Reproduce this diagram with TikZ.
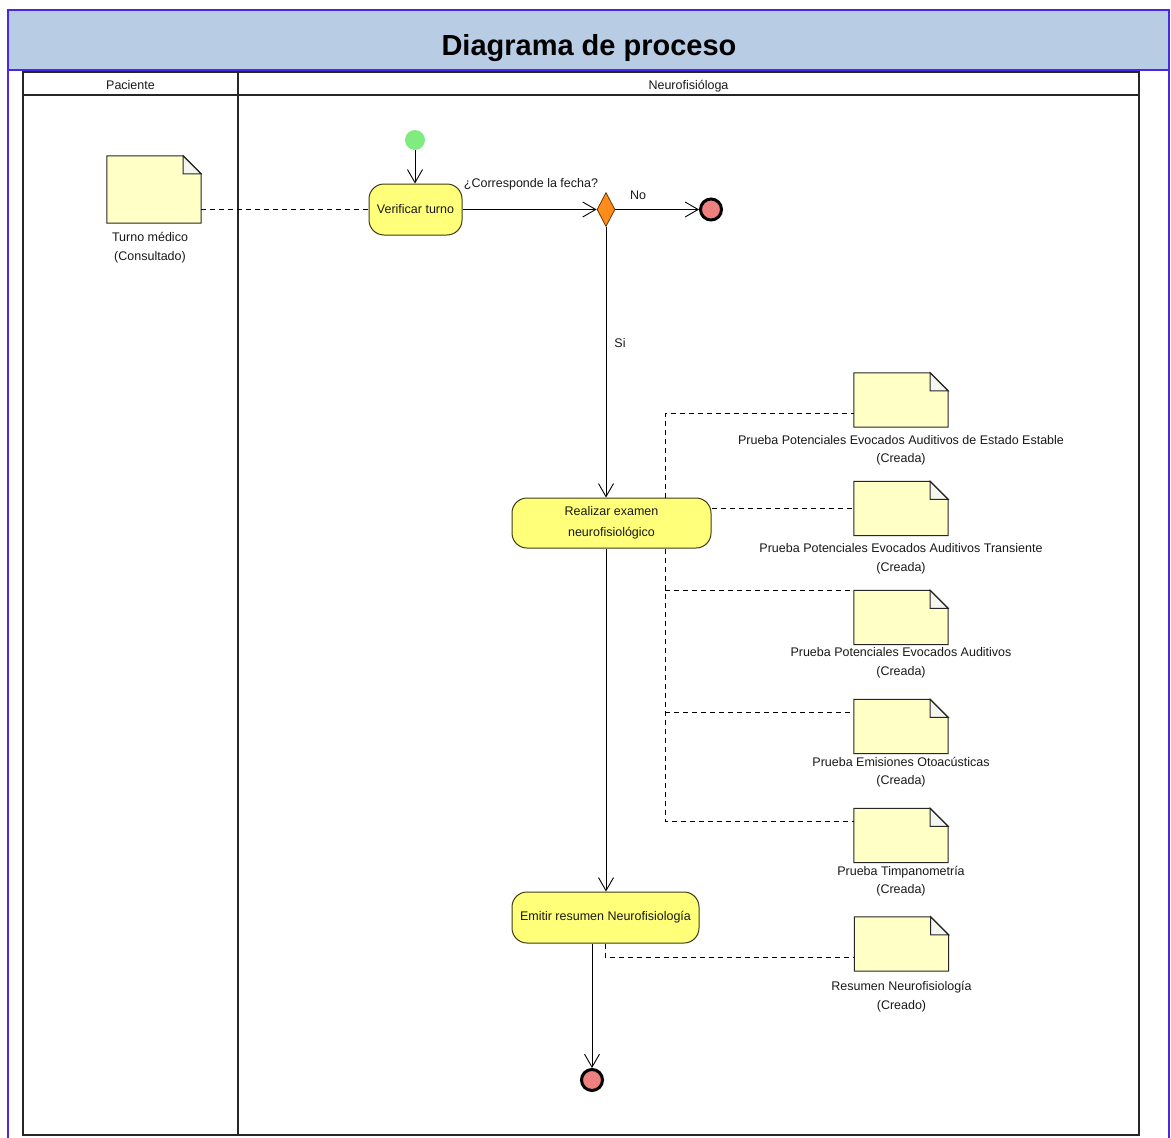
\documentclass[tikz,border=0pt]{standalone}
\usepackage{fontspec}
\setmainfont{Liberation Sans}
\usetikzlibrary{arrows.meta,shapes.geometric,calc}

\definecolor{frameblue}{RGB}{72,40,230}
\definecolor{titlefill}{RGB}{184,204,228}
\definecolor{actfill}{RGB}{255,255,122}
\definecolor{actline}{RGB}{60,60,20}
\definecolor{notefill}{RGB}{255,255,198}
\definecolor{foldfill}{RGB}{246,246,240}
\definecolor{startgreen}{RGB}{128,236,128}
\definecolor{endpink}{RGB}{238,128,128}
\definecolor{decorange}{RGB}{255,140,26}

\tikzset{
  lbl/.style={font=\fontsize{12.5}{18.5}\selectfont, text=black!90, inner sep=0pt, align=center},
  activity/.style={draw=actline, fill=actfill, rounded corners=15pt, line width=1pt,
    inner sep=0pt, align=center, text=black!90, font=\fontsize{12.5}{20.5}\selectfont},
  docnote/.style={minimum width=94pt, minimum height=54pt, inner sep=0pt},
  startdot/.style={circle, fill=startgreen, minimum size=20pt, inner sep=0pt},
  enddot/.style={circle, fill=endpink, draw=black, line width=3pt, minimum size=21pt, inner sep=0pt},
  decision/.style={diamond, fill=decorange, draw=black!60!decorange, line width=0.8pt,
    minimum width=18pt, minimum height=34pt, inner sep=0pt},
  flow/.style={line width=0.9pt, -{Straight Barb[length=13pt,width=15pt,line width=0.9pt]}},
  plainflow/.style={line width=0.9pt},
  objlink/.style={line width=0.9pt, dash pattern=on 5pt off 4pt},
  lane/.style={line width=2.6pt, black!85},
}

% document sheet with a folded top-right corner around a named node
\newcommand\notesheet[1]{%
  \fill[notefill] (#1.south west) -- (#1.north west) -- ([xshift=-18pt]#1.north east)
    -- ([yshift=-18pt]#1.north east) -- (#1.south east) -- cycle;
  \filldraw[fill=foldfill, draw=black!85, line width=1pt] ([xshift=-18pt]#1.north east)
    -- ([xshift=-18pt,yshift=-18pt]#1.north east) -- ([yshift=-18pt]#1.north east) -- cycle;
  \draw[black!85, line width=1pt] (#1.south west) -- (#1.north west) -- ([xshift=-18pt]#1.north east)
    -- ([yshift=-18pt]#1.north east) -- (#1.south east) -- cycle;
}

\begin{document}
\begin{tikzpicture}[x=1pt,y=-1pt]
\useasboundingbox (0,0) rectangle (1171,1138);
\fill[white] (0,0) rectangle (1171,1138);

% frame and title band
\fill[titlefill] (8,10) rectangle (1169,70);
\draw[frameblue, line width=1.6pt] (8,1138) -- (8,10) -- (1169,10) -- (1169,1138);
\draw[frameblue, line width=1.2pt] (8,70) -- (1169,70);
\node[font=\fontsize{29}{31}\selectfont\bfseries, anchor=base, inner sep=0pt] (title) at (589,55) {Diagrama de proceso};

% swimlanes
\draw[lane] (23,72) rectangle (1139,1135);
\draw[lane] (23,95) -- (1139,95);
\draw[lane] (238,72) -- (238,1135);
\node[lbl, anchor=base] (lanep) at (130.5,89.5) {Paciente};
\node[lbl, anchor=base] (lanen) at (688.5,89.5) {Neurofisióloga};

% control nodes and actions
\node[startdot] (start) at (415,140) {};
\node[activity, minimum width=93pt, minimum height=51pt] (verif) at (415.5,209.5) {Verificar turno};
\node[decision] (dec) at (606,209.5) {};
\node[enddot] (fin1) at (711,209.5) {};
\node[activity, minimum width=199pt, minimum height=50pt] (exam) at (611.5,523) {Realizar examen\\neurofisiológico};
\node[activity, minimum width=187pt, minimum height=51pt] (emit) at (605.5,917.5) {Emitir resumen Neurofisiología};
\node[enddot] (fin2) at (592,1080) {};

% object nodes
\node[docnote, minimum height=67pt] (turno) at (154,189.5) {}; \notesheet{turno}
\node[lbl, anchor=north] (turnot) at ([xshift=-4pt,yshift=-9pt]turno.south) {Turno médico\\(Consultado)};

\node[docnote] (n1) at (901,400) {}; \notesheet{n1}
\node[lbl, anchor=north] (n1t) at ([yshift=-8pt]n1.south) {Prueba Potenciales Evocados Auditivos de Estado Estable\\(Creada)};
\node[docnote] (n2) at (901,508.5) {}; \notesheet{n2}
\node[lbl, anchor=north] (n2t) at ([yshift=-8pt]n2.south) {Prueba Potenciales Evocados Auditivos Transiente\\(Creada)};
\node[docnote] (n3) at (901,617.5) {}; \notesheet{n3}
\node[lbl, anchor=north] (n3t) at ([yshift=-3pt]n3.south) {Prueba Potenciales Evocados Auditivos\\(Creada)};
\node[docnote] (n4) at (901,726.5) {}; \notesheet{n4}
\node[lbl, anchor=north] (n4t) at ([yshift=-3pt]n4.south) {Prueba Emisiones Otoacústicas\\(Creada)};
\node[docnote] (n5) at (901,835.5) {}; \notesheet{n5}
\node[lbl, anchor=north] (n5t) at ([yshift=-3pt]n5.south) {Prueba Timpanometría\\(Creada)};
\node[docnote] (n6) at (901.5,944) {}; \notesheet{n6}
\node[lbl, anchor=north] (n6t) at ([yshift=-10pt]n6.south) {Resumen Neurofisiología\\(Creado)};

% object flows
\draw[objlink] (turno.east |- verif.west) -- (verif.west);
\draw[objlink] (exam.east |- n2.west) -- (n2.west);
\coordinate (ja) at (665,413);
\coordinate (jc) at (665,590);
\coordinate (jd) at (665,712);
\coordinate (jb) at (665,821);
\draw[objlink] (exam.north -| ja) -- (ja) -- (ja -| n1.west);
\draw[objlink] (exam.south -| jb) -- (jb) -- (jb -| n5.west);
\draw[objlink] (jc) -- (jc -| n3.west);
\draw[objlink] (jd) -- (jd -| n4.west);
\coordinate (je) at (605,957);
\draw[objlink] (emit.south -| je) -- (je) -- (je -| n6.west);

% control flows
\draw[flow] (start.south) -- (verif.north -| start.south);
\draw[flow] (verif.east) -- (dec.west);
\draw[flow] (dec.east) -- (fin1.west);
\draw[flow] (dec.south) -- (dec.south |- exam.north);
\draw[flow] (exam.south -| dec.south) -- (emit.north -| dec.south);
\draw[flow] (emit.south -| fin2.north) -- (fin2.north);

% guard labels
\node[lbl, anchor=base] (qlbl) at (531,187) {¿Corresponde la fecha?};
\node[lbl, anchor=base] (nolbl) at (638,199) {No};
\node[lbl, anchor=base] (silbl) at (620,347) {Si};
\end{tikzpicture}
\end{document}
